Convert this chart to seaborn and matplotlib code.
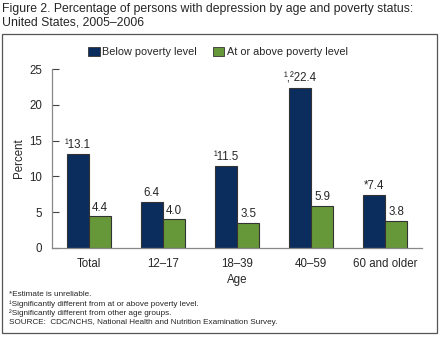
import matplotlib
matplotlib.use("Agg")
import matplotlib.pyplot as plt
import seaborn as sns
import pandas as pd
from matplotlib.patches import Rectangle, Patch

categories = ["Total", "12\u201317", "18\u201339", "40\u201359", "60 and older"]
below = [13.1, 6.4, 11.5, 22.4, 7.4]
above = [4.4, 4.0, 3.5, 5.9, 3.8]
below_labels = ["\u00b913.1", "6.4", "\u00b911.5", "\u00b9\u002c\u00b222.4", "*7.4"]
above_labels = ["4.4", "4.0", "3.5", "5.9", "3.8"]
series = ["Below poverty level", "At or above poverty level"]
yticks = [0, 5, 10, 15, 20, 25]

sns.set_theme(style="white")
plt.rcParams['font.family'] = ['Liberation Sans', 'DejaVu Sans']

df = pd.DataFrame({
    "Age": categories * 2,
    "Percent": below + above,
    "Status": [series[0]] * 5 + [series[1]] * 5,
})

navy = "#0B2D5E"
green = "#66983A"

fig = plt.figure(figsize=(4.4, 3.37), dpi=100)
ax = fig.add_axes([52/440, 1 - 248/337, 370/440, (248 - 69)/337])
sns.barplot(data=df, x="Age", y="Percent", hue="Status", order=categories,
            hue_order=series, palette=[navy, green], width=0.6,
            edgecolor="#333333", linewidth=0.8, saturation=1, ax=ax, legend=False)

ax.set_xlim(-0.5, 4.5)
ax.set_ylim(0, 25)
ax.set_yticks(yticks)
ax.set_yticklabels([str(t) for t in yticks], fontsize=8.3)
ax.tick_params(axis='y', length=5, width=0.8, color="#444444", direction='in', pad=7, left=True)
ax.tick_params(axis='x', length=0, labelsize=8.3, pad=7)
for s in ["top", "right"]:
    ax.spines[s].set_visible(False)
for s in ["left", "bottom"]:
    ax.spines[s].set_color("#888888")
    ax.spines[s].set_linewidth(0.9)
ax.set_xlabel("Age", fontsize=8.3, labelpad=3)
ax.set_ylabel("Percent", fontsize=8.3, labelpad=3)

conts = ax.containers
ax.bar_label(conts[0], labels=below_labels, fontsize=8.3, padding=2)
ax.bar_label(conts[1], labels=above_labels, fontsize=8.3, padding=2)

handles = [Patch(facecolor=navy, edgecolor="#333333", linewidth=0.6),
           Patch(facecolor=green, edgecolor="#333333", linewidth=0.6)]
fig.legend(handles, series, loc="center", bbox_to_anchor=(218/440, 1 - 52/337), ncol=2,
           frameon=False, fontsize=7.8, handlelength=1.05, handleheight=0.9,
           handletextpad=0.2, columnspacing=1.5)

fig.text(2/440, 1 - 3/337, "Figure 2. Percentage of persons with depression by age and poverty status:\nUnited States, 2005\u20132006",
         ha="left", va="top", fontsize=8.8, linespacing=1.2)

fig.add_artist(Rectangle((2/440, 1 - 333/337), 435/440, (333 - 34)/337, transform=fig.transFigure,
                         fill=False, edgecolor="#555555", linewidth=0.9))

notes = ["*Estimate is unreliable.",
         "\u00b9Significantly different from at or above poverty level.",
         "\u00b2Significantly different from other age groups.",
         "SOURCE:  CDC/NCHS, National Health and Nutrition Examination Survey."]
for i, n in enumerate(notes):
    fig.text(9/440, 1 - (295 + i * 9.3)/337, n, ha="left", va="center", fontsize=5.9)

fig.savefig("out.png", dpi=100)
